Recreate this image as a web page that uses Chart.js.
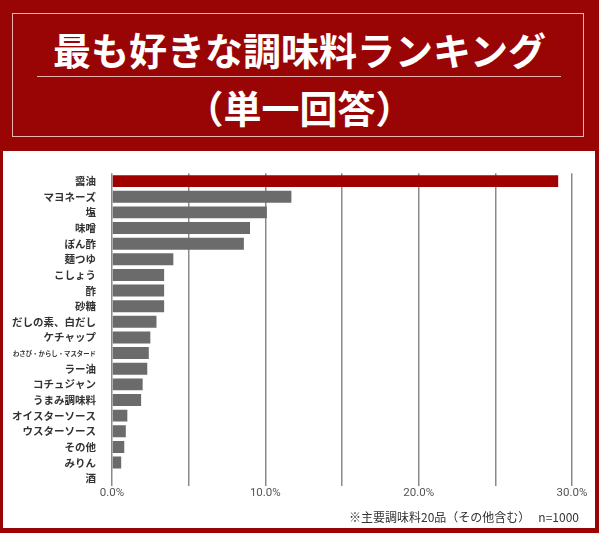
<!DOCTYPE html>
<html>
<head>
<meta charset="utf-8">
<script src="https://cdn.jsdelivr.net/npm/chart.js@4"></script>
<style>
  html, body { margin: 0; padding: 0; }
  body {
    width: 599px; height: 533px; overflow: hidden;
    background: #990505; position: relative;
    font-family: "Noto Sans CJK JP", sans-serif;
  }
  .title-box {
    position: absolute; left: 12px; top: 13px; width: 572px; height: 124px;
    border: 1px solid #e9b4b0; box-sizing: border-box;
  }
  .title {
    position: absolute; left: 0; width: 599px; text-align: center;
    color: #fff; font-weight: bold; font-size: 38px; line-height: 1;
  }
  .rule {
    position: absolute; left: 37px; top: 76px; width: 524px; height: 1px;
    background: #e9b4b0;
  }
  .panel {
    position: absolute; left: 3px; top: 151px; width: 592px; height: 377px;
    background: #fff;
  }
  .note {
    position: absolute; right: 20px; top: 508px;
    font-size: 12px; color: #333;
  }
</style>
</head>
<body>
<div class="title-box"></div>
<div class="title" style="top:30px">最も好きな調味料ランキング</div>
<div class="rule"></div>
<div class="title" style="top:88px">（単一回答）</div>
<div class="panel"><canvas id="chart" width="592" height="377"></canvas></div>
<div class="note">※主要調味料20品（その他含む）&nbsp;&nbsp;&nbsp;n=1000</div>
<script>
const categories = [
  "醤油", "マヨネーズ", "塩", "味噌", "ぽん酢", "麺つゆ", "こしょう", "酢", "砂糖",
  "だしの素、白だし", "ケチャップ", "わさび・からし・マスタード", "ラー油",
  "コチュジャン", "うまみ調味料", "オイスターソース", "ウスターソース",
  "その他", "みりん", "酒"
];
const shares = [
  29.1, 11.7, 10.1, 9.0, 8.6, 4.0, 3.4, 3.4, 3.4,
  2.9, 2.5, 2.4, 2.3,
  2.0, 1.9, 1.0, 0.9,
  0.8, 0.6, 0.0
];
const xTickLabels = ["0.0%", "10.0%", "20.0%", "30.0%"];

const barColors = shares.map((v, i) => (i === 0 ? "#a00000" : "#6b6b6b"));

new Chart(document.getElementById("chart").getContext("2d"), {
  type: "bar",
  data: {
    labels: categories,
    datasets: [{
      data: shares,
      backgroundColor: barColors,
      barPercentage: 0.85,
      categoryPercentage: 0.9,
    }],
  },
  options: {
    indexAxis: "y",
    responsive: false,
    animation: false,
    layout: { padding: { top: 17, right: 23, left: 0, bottom: 0 } },
    scales: {
      x: {
        min: 0,
        max: 30,
        afterFit: (s) => { s.height = 42; },
        ticks: {
          stepSize: 5,
          padding: 0,
          color: "#555",
          font: { family: "Roboto, 'Noto Sans CJK JP'", size: 11.5 },
          callback: (v) => (v % 10 === 0 ? xTickLabels[v / 10] : ""),
        },
        grid: { color: "#8a8a8a", lineWidth: 1.5, drawTicks: false },
        border: { display: false },
      },
      y: {
        afterFit: (s) => { s.width = 109; },
        grid: { display: false, drawTicks: false },
        border: { display: false },
        ticks: {
          padding: 16,
          color: "#333",
          autoSkip: false,
          font: (ctx) => ({
            family: "'Noto Sans CJK JP'",
            weight: "bold",
            size: ctx.index === 11 ? 6.4 : 10.5,
          }),
        },
      },
    },
    plugins: {
      legend: { display: false },
      tooltip: { enabled: false },
    },
  },
});
</script>
</body>
</html>
